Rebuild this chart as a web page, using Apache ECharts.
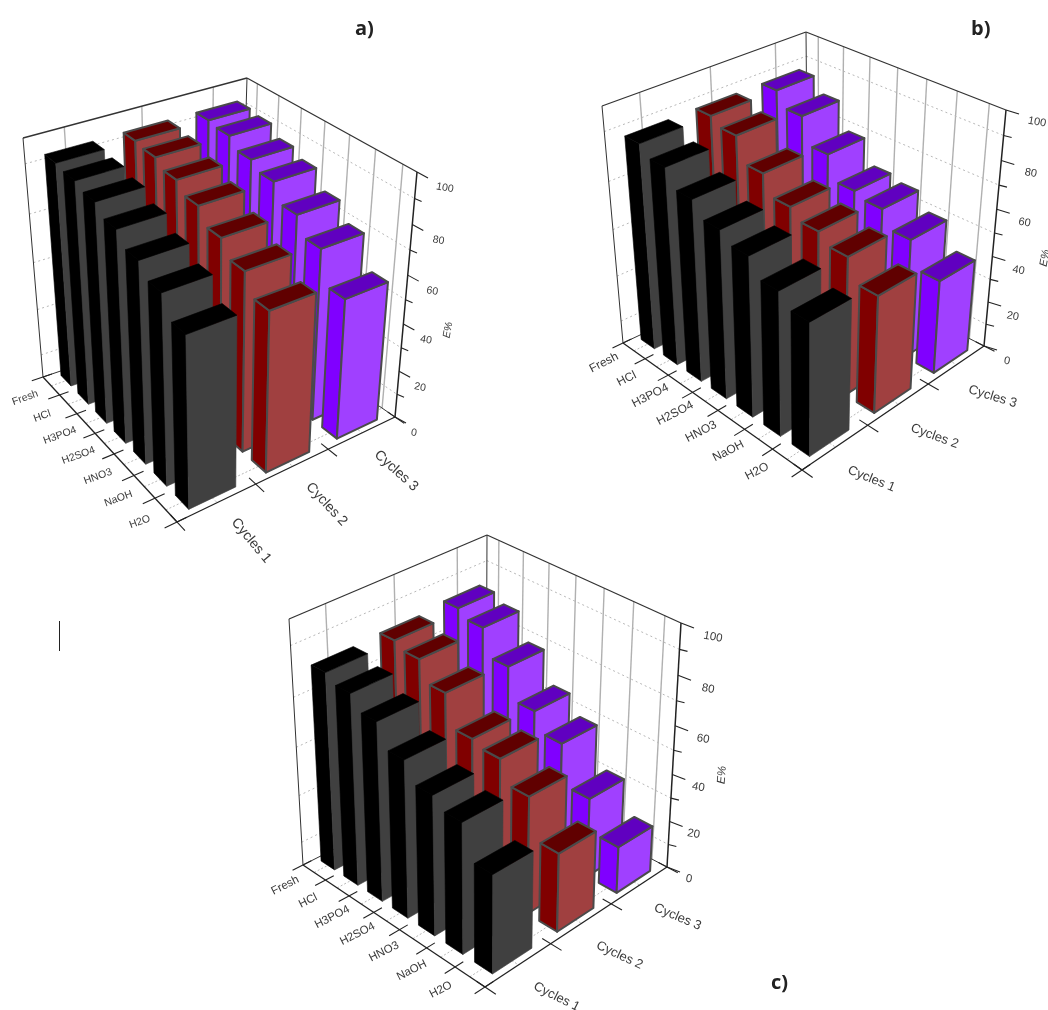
<!DOCTYPE html>
<html>
<head>
<meta charset="utf-8">
<style>html,body{margin:0;padding:0;background:#fff}#c{width:1048px;height:1010px}</style>
<script src="https://cdn.jsdelivr.net/npm/echarts@6/dist/echarts.min.js"></script>
</head>
<body>
<div id="c"></div>
<script>
// ---- data ----
const categories = ['Fresh','HCl','H3PO4','H2SO4','HNO3','NaOH','H2O'];
const cycles = ['Cycles 1','Cycles 2','Cycles 3'];
const valueTicks = [0,20,40,60,80,100];
const minorTicks = [10,30,50,70,90];
const axisName = 'E%';
const panelNames = ['a)','b)','c)'];
const panelA_cycles1 = [93,92,90,86,81,76,68];
const panelA_cycles2 = [93,92,89,85,79,73,65];
const panelA_cycles3 = [93,92,88,85,78,71,58];
const panelB_cycles1 = [87,83,76,70,66,59,54];
const panelB_cycles2 = [87,84,74,66,62,58,49];
const panelB_cycles3 = [87,81,70,60,58,51,40];
const panelC_cycles1 = [81,78,72.5,63.5,56,52,39];
const panelC_cycles2 = [81.5,79,71,58.5,56.5,47.8,32];
const panelC_cycles3 = [83,80,69.5,57,49.5,33,19.5];
const panelValues = [
  [panelA_cycles1,panelA_cycles2,panelA_cycles3],
  [panelB_cycles1,panelB_cycles2,panelB_cycles3],
  [panelC_cycles1,panelC_cycles2,panelC_cycles3]
];

// ---- style / layout ----
const barStyles = [
  {side:'#000000',front:'#404040',top:'#000000',edge:null},
  {side:'#800000',front:'#a04040',top:'#600000',edge:'#4a4a4a'},
  {side:'#8000ff',front:'#a040ff',top:'#6000c0',edge:'#4a4a4a'}
];
const layouts = [
  {L:[43,377],F:[177,522],B:[240,310],R:[395,417],TL:[23,138],TF:[171,255],TB:[247,78],TR:[417,172],
   ku:.18,kv:.13,kz:.09,catFont:10.5,cycFont:14,valFont:10.5,
   catOff:[-26,12],catRot:-20,cycOff:[34,38],cycRot:[50,47,42],valOff0:[19,16],valOff1:[28,16],valRot:10,
   nameXY:[448,330],nameRot:-80,majT:[11,6],minT:[7,3],title:[367,33]},
  {L:[623,343],F:[802,470],B:[808,256],R:[984,346],TL:[602,106],TF:[801,208],TB:[806,32],TR:[1006,110],
   ku:.18,kv:.13,kz:.09,catFont:12,cycFont:13,valFont:11,
   catOff:[-30,12],catRot:-27,cycOff:[36,32],cycRot:[22,20,17],valOff0:[23,15],valOff1:[31,12],valRot:10,
   nameXY:[1045,258],nameRot:-80,majT:[13,4],minT:[8,2],title:[983,33]},
  {L:[303,865],F:[485,987],B:[486,772],R:[667,867],TL:[289,619],TF:[485,715],TB:[487,535],TR:[681,623],
   ku:.18,kv:.13,kz:.09,catFont:11.5,cycFont:13,valFont:11.5,
   catOff:[-29,13],catRot:-27,cycOff:[38,32],cycRot:[27,25,23],valOff0:[22,12],valOff1:[32,14],valRot:10,
   nameXY:[722,775],nameRot:-85,majT:[13,5],minT:[8,2],title:[783,987]}
];
const fontFamily = '"Liberation Sans", Arial, sans-serif';
const nCat = categories.length, nCyc = cycles.length;

function lerp(a,b,t){return [a[0]+(b[0]-a[0])*t,a[1]+(b[1]-a[1])*t];}
function project(g,u,v,z){
  const su=u/(1+g.ku*(1-u));
  const sv=v*(1+g.kv)/(1+g.kv*v);
  const sz=z/(1+g.kz*(1-z));
  const f=lerp(lerp(g.L,g.F,su),lerp(g.B,g.R,su),sv);
  const t=lerp(lerp(g.TL,g.TF,su),lerp(g.TB,g.TR,su),sv);
  return lerp(f,t,sz);
}
// the hidden category/value axes give the u (category) and z (value) fractions
function fracs(params,api,cat,val){
  const cs=params.coordSys;
  const c=api.coord([cat,val]);
  const band=api.size([1,0])[0];
  return {u:(c[0]-cs.x)/cs.width, du:band/cs.width, z:(cs.y+cs.height-c[1])/cs.height};
}
function line(a,b,stroke,w,dash){
  return {type:'line',shape:{x1:a[0],y1:a[1],x2:b[0],y2:b[1]},
    style:{stroke:stroke,lineWidth:w,lineDash:dash||null},silent:true};
}
function label(text,p,rotDeg,size,extra){
  return {type:'text',x:p[0],y:p[1],rotation:-rotDeg*Math.PI/180,silent:true,
    style:Object.assign({text:text,fill:'#3a3a3a',fontSize:size,fontFamily:fontFamily,
      align:'center',verticalAlign:'middle'},extra||{})};
}
function frameRenderer(p){
  const g=layouts[p];
  return function(params,api){
    const ch=[];
    const P=(u,v,zz)=>project(g,u,v,zz);
    const grey='#b0b0b0', dot='#b8b8b8', dark='#333333';
    const zOf=val=>fracs(params,api,0,val).z;
    for(let j=0;j<nCyc;j++){const v=(j+.5)/nCyc; ch.push(line(P(0,v,0),P(1,v,0),dot,1,[2,2]));}
    for(let i=0;i<nCat;i++){const uu=fracs(params,api,i,0).u; ch.push(line(P(uu,0,0),P(uu,1,0),dot,1,[2,2]));}
    for(let j=0;j<nCyc;j++){const v=(j+.5)/nCyc; ch.push(line(P(0,v,0),P(0,v,1),grey,1.4));}
    for(let i=0;i<nCat;i++){const uu=fracs(params,api,i,0).u; ch.push(line(P(uu,1,0),P(uu,1,1),grey,1.4));}
    minorTicks.forEach(val=>{const z=zOf(val);
      ch.push(line(P(0,0,z),P(0,1,z),dot,1,[2,3]));
      ch.push(line(P(0,1,z),P(1,1,z),dot,1,[2,3]));
    });
    ch.push(line(g.TL,g.TB,dark,1.3)); ch.push(line(g.TB,g.TR,dark,1.3));
    ch.push(line(g.TB,g.B,dark,1)); ch.push(line(g.TL,g.L,dark,1));
    ch.push(line(g.L,g.B,dark,1)); ch.push(line(g.B,g.R,dark,1));
    ch.push(line(g.L,g.F,'#222',1.3)); ch.push(line(g.F,g.R,'#222',1.3));
    ch.push(line(g.R,g.TR,'#222',1.5));
    for(let i=0;i<=nCat;i++){
      const fr=fracs(params,api,Math.min(i,nCat-1),0);
      const uu=(i===nCat)?1:(fr.u-fr.du/2);
      ch.push(line(P(uu,-.05,0),P(uu,.04,0),'#222',1.1));
    }
    categories.forEach((c,i)=>{
      const m=P(fracs(params,api,i,0).u,0,0);
      ch.push(label(c,[m[0]+g.catOff[0],m[1]+g.catOff[1]],g.catRot,g.catFont));
    });
    for(let j=0;j<=nCyc;j++){const v=j/nCyc; ch.push(line(P(.96,v,0),P(1.05,v,0),'#222',1.1));}
    cycles.forEach((c,j)=>{
      const m=P(1,(j+.5)/nCyc,0);
      ch.push(label(c,[m[0]+g.cycOff[0],m[1]+g.cycOff[1]],g.cycRot[j],g.cycFont));
    });
    valueTicks.forEach(val=>{
      const z=zOf(val), a=P(1,1,z), off=lerp(g.valOff0,g.valOff1,z);
      ch.push(line(a,[a[0]+g.majT[0],a[1]+g.majT[1]],'#222',1.1));
      ch.push(label(String(val),[a[0]+off[0],a[1]+off[1]],g.valRot,g.valFont));
    });
    minorTicks.forEach(val=>{
      const a=P(1,1,zOf(val));
      ch.push(line(a,[a[0]+g.minT[0],a[1]+g.minT[1]],'#222',1.1));
    });
    ch.push(label(axisName,g.nameXY,g.nameRot,g.valFont,{fontStyle:'italic'}));
    return {type:'group',children:ch};
  };
}
function barRenderer(p,j){
  const g=layouts[p], st=barStyles[j];
  return function(params,api){
    const cat=api.value(0), val=api.value(1);
    const f=fracs(params,api,cat,val);
    const u0=f.u-f.du*.3,u1=f.u+f.du*.3;
    const v0=(j+.2)/nCyc,v1=(j+.8)/nCyc;
    const z=f.z;
    const q=(a,b,c,d,fill)=>({type:'polygon',shape:{points:[a,b,c,d]},silent:true,
      style:{fill:fill,stroke:st.edge||fill,lineWidth:st.edge?2:0.6,lineJoin:'round'}});
    const P=(u,v,zz)=>project(g,u,v,zz);
    return {type:'group',children:[
      q(P(u0,v0,0),P(u1,v0,0),P(u1,v0,z),P(u0,v0,z),st.side),
      q(P(u1,v0,0),P(u1,v1,0),P(u1,v1,z),P(u1,v0,z),st.front),
      q(P(u0,v0,z),P(u1,v0,z),P(u1,v1,z),P(u0,v1,z),st.top)
    ]};
  };
}

const grids=[],xAxes=[],yAxes=[],series=[];
layouts.forEach((g,p)=>{
  const xs=[g.L,g.F,g.R,g.TL,g.TR,g.TB].map(c=>c[0]);
  const ys=[g.L,g.F,g.R,g.TL,g.TR,g.TB].map(c=>c[1]);
  const x0=Math.min(...xs),x1=Math.max(...xs),y0=Math.min(...ys),y1=Math.max(...ys);
  grids.push({left:x0,top:y0,width:x1-x0,height:y1-y0,show:false});
  xAxes.push({gridIndex:p,type:'category',data:categories,show:false,boundaryGap:true});
  yAxes.push({gridIndex:p,type:'value',min:0,max:100,show:false});
  series.push({type:'custom',xAxisIndex:p,yAxisIndex:p,silent:true,animation:false,
    encode:{x:0,y:1},data:[[0,0]],renderItem:frameRenderer(p)});
  for(let j=nCyc-1;j>=0;j--){
    series.push({type:'custom',name:cycles[j],xAxisIndex:p,yAxisIndex:p,silent:true,animation:false,
      encode:{x:0,y:1},data:panelValues[p][j].map((v,i)=>[i,v]),renderItem:barRenderer(p,j)});
  }
});
const graphics=layouts.map((g,p)=>({type:'text',left:g.title[0]-12,top:g.title[1]-14,silent:true,
  style:{text:panelNames[p],fontSize:20,fontWeight:'bold',fontFamily:'"Open Sans", sans-serif',fill:'#222'}}));
graphics.push({type:'line',shape:{x1:59.5,y1:621,x2:59.5,y2:651},style:{stroke:'#222',lineWidth:1},silent:true});

const chart=echarts.init(document.getElementById('c'),null,{renderer:'canvas'});
chart.setOption({backgroundColor:'#ffffff',animation:false,grid:grids,xAxis:xAxes,yAxis:yAxes,series:series,graphic:graphics});
</script>
</body>
</html>
